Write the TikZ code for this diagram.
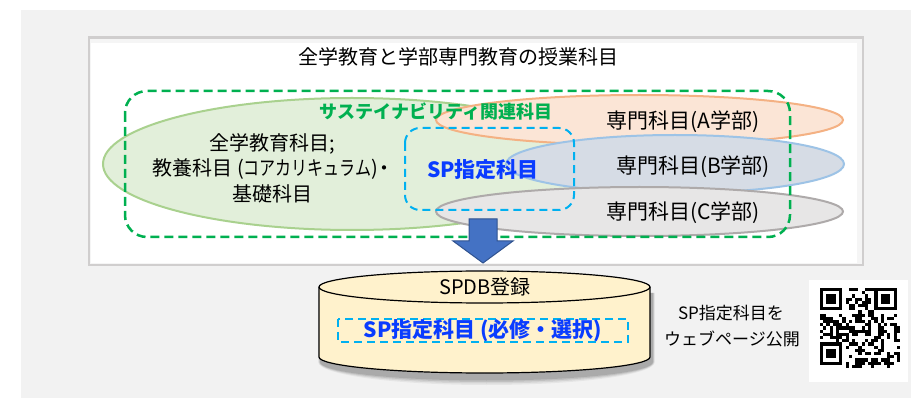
\documentclass[tikz,border=0pt]{standalone}
\usepackage{fontspec}
\setmainfont{Noto Sans CJK JP}
\definecolor{bggray}{HTML}{F2F2F2}
\definecolor{framegray}{HTML}{D0CECE}
\definecolor{gfill}{HTML}{E2EFDA}
\definecolor{gline}{HTML}{A9D18E}
\definecolor{ofill}{HTML}{FBE5D6}
\definecolor{oline}{HTML}{F4B183}
\definecolor{bfill}{HTML}{D6DCE5}
\definecolor{bline}{HTML}{9DC3E6}
\definecolor{cfill}{HTML}{E7E6E6}
\definecolor{cline}{HTML}{AEAAAA}
\definecolor{sgreen}{HTML}{00B050}
\definecolor{scyan}{HTML}{00B0F0}
\definecolor{spblue}{HTML}{0A3CFF}
\definecolor{arrfill}{HTML}{4472C4}
\definecolor{arrline}{HTML}{2F528F}
\definecolor{cylfill}{HTML}{FFF2CC}
\tikzset{
  txt/.style={inner sep=0pt, anchor=center, font=\fontsize{20}{25}\selectfont},
  bigtxt/.style={inner sep=0pt, anchor=center, font=\fontsize{21}{25}\selectfont},
  sptxt/.style={inner sep=0pt, anchor=center, text=spblue, font=\fontsize{21}{25}\selectfont\bfseries},
  smalltxt/.style={inner sep=0pt, anchor=center, font=\fontsize{17}{21}\selectfont},
  ell/.style={line width=2pt},
  greendash/.style={draw=sgreen, line width=2.5pt, dash pattern=on 9pt off 5pt, rounded corners=22pt},
  cyandash/.style={draw=scyan, line width=2pt, dash pattern=on 8pt off 5pt},
}
\begin{document}
\begin{tikzpicture}[x=1pt,y=-1pt]
\useasboundingbox (0,0) rectangle (911,398);
\fill[white] (0,0) rectangle (911,398);
\fill[bggray] (21,10) rectangle (911,398);
% framed white box
\fill[framegray] (88,36) rectangle (864,266);
\fill[white!96!black] (90,39) rectangle (862,264);
\fill[white] (91,43) rectangle (857,263);
\node[txt] (title) at (458,57) {全学教育と学部専門教育の授業科目};
% ellipses
\path[ell, draw=gline, fill=gfill] (352,164) ellipse [x radius=249, y radius=66];
\path[ell, draw=oline, fill=ofill] (639.5,120) ellipse [x radius=203.5, y radius=25];
\path[ell, draw=bline, fill=bfill] (675,164) ellipse [x radius=169, y radius=29];
\path[ell, draw=cline, fill=cfill] (639.5,211.5) ellipse [x radius=203.5, y radius=24.5];
% texts
\node[txt, align=center, font=\fontsize{20}{25.5}\selectfont] (gen) at (272,168) {全学教育科目;\\教養科目 (\scalebox{0.8}[1]{コアカリキュラム})\kern-4pt・\kern-3pt\\基礎科目};
\node[inner sep=0pt, text=sgreen, font=\fontsize{18}{22}\selectfont\bfseries] (sus) at (436,111) {サステイナビリティ関連科目};
\node[bigtxt] (depA) at (683,122) {専門科目(A学部)};
\node[bigtxt] (depB) at (693,167) {専門科目(B学部)};
\node[bigtxt] (depC) at (683,213) {専門科目(C学部)};
% SP dashed box
\draw[cyandash, rounded corners=15pt] (405,128) rectangle (574,210);
\node[sptxt] (sp) at (483,170) {SP指定科目};
% green dashed frame
\draw[greendash] (125,91) rectangle (790,237);
% block arrow
\path[draw=arrline, fill=arrfill, line width=1pt, line join=miter]
  (469,219) -- (497,219) -- (497,241) -- (513,241) -- (483,263) -- (453,241) -- (469,241) -- cycle;
% cylinder shadow (soft)
\foreach \k/\op in {7/0.05,5.5/0.07,4/0.09,2.5/0.11}{
  \fill[black, opacity=\op]
    (321-\k*0.4,293) -- (321-\k*0.4,362) arc[start angle=180, end angle=360, x radius=165.5pt+\k*0.4pt, y radius=16pt+\k*1pt]
    -- (652+\k*0.4,293) -- cycle;
}
% cylinder
\path[draw=black, fill=cylfill, line width=1.2pt]
  (319,287) -- (319,357) arc[start angle=180, end angle=360, x radius=165.5pt, y radius=16pt]
  -- (650,287) arc[start angle=0, end angle=180, x radius=165.5pt, y radius=16pt] -- cycle;
\draw[black, line width=1.2pt] (319,287) arc[start angle=180, end angle=360, x radius=165.5pt, y radius=16pt];
\node[txt] (spdb) at (485,287) {SPDB登録};
\draw[cyandash] (338,319) rectangle (628,342);
\node[sptxt] (spsel) at (483,330.5) {SP指定科目 (必修・選択)};
% right text
\node[smalltxt] (web1) at (731,313) {SP指定科目を};
\node[smalltxt] (web2) at (732,339) {ウェブページ公開};
% QR code
\fill[white] (809,280) rectangle (908,382);
\pgfmathsetseed{12345}
\foreach \i in {0,...,24}{
  \foreach \j in {0,...,24}{
    \pgfmathrandominteger{\r}{0}{1}
    \pgfmathtruncatemacro{\inf}{((\i<8)&&(\j<8)) || ((\i>16)&&(\j<8)) || ((\i<8)&&(\j>16)) ? 1 : 0}
    \ifnum\r=1 \ifnum\inf=0 \fill[black] (820+\i*3.2,288+\j*3.2) rectangle ++(3.2,3.2); \fi\fi
  }
}
\foreach \ox/\oy in {820/288, 874.4/288, 820/342.4}{
  \fill[black] (\ox,\oy) rectangle ++(22.4,22.4);
  \fill[white] (\ox+3.2,\oy+3.2) rectangle ++(16,16);
  \fill[black] (\ox+6.4,\oy+6.4) rectangle ++(9.6,9.6);
}
\end{tikzpicture}
\end{document}
